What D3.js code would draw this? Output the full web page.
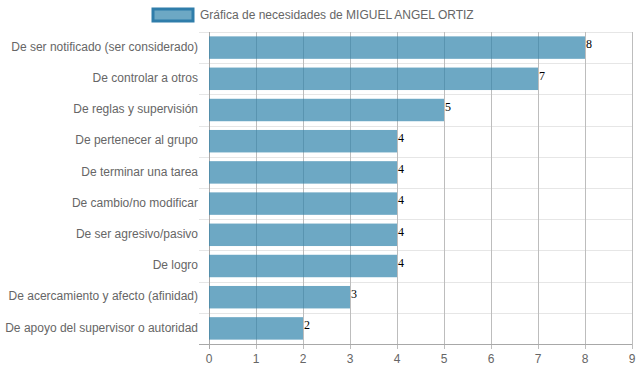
<!DOCTYPE html>
<html>
<head>
<meta charset="utf-8">
<script src="https://cdn.jsdelivr.net/npm/d3@7"></script>
<style>
  html, body { margin: 0; padding: 0; background: #fff; }
  svg { display: block; font-family: "Liberation Sans", Arial, sans-serif; }
</style>
</head>
<body>
<svg id="chart" width="639" height="372"></svg>
<script>
// ----------------------------
// Data
// ----------------------------
const seriesName = "Gráfica de necesidades de MIGUEL ANGEL ORTIZ";
const categories = [
  "De ser notificado (ser considerado)",
  "De controlar a otros",
  "De reglas y supervisión",
  "De pertenecer al grupo",
  "De terminar una tarea",
  "De cambio/no modificar",
  "De ser agresivo/pasivo",
  "De logro",
  "De acercamiento y afecto (afinidad)",
  "De apoyo del supervisor o autoridad"
];
const values = [8, 7, 5, 4, 4, 4, 4, 4, 3, 2];
const xTicks = [0, 1, 2, 3, 4, 5, 6, 7, 8, 9];

// ----------------------------
// Plotting
// ----------------------------
const svg = d3.select("#chart");
const margin = { top: 32, right: 7, bottom: 28, left: 209 };
const width = +svg.attr("width");
const height = +svg.attr("height");
const innerW = width - margin.left - margin.right;
const innerH = height - margin.top - margin.bottom;

const xScale = d3.scaleLinear().domain([0, 9]).range([0, innerW]);
const yScale = d3.scaleBand().domain(categories).range([0, innerH]);

const barFill = "rgba(47,131,171,0.7)";
const barStroke = "rgba(47,125,170,1)";
const textColor = "#666";

const g = svg.append("g").attr("transform", `translate(${margin.left},${margin.top})`);

// horizontal grid at category boundaries
const bounds = d3.range(categories.length + 1).map(i => i * yScale.bandwidth());
g.selectAll(".hgrid").data(bounds).join("line")
    .attr("x1", -10)
    .attr("x2", innerW)
    .attr("y1", d => Math.round(d) + 0.5)
    .attr("y2", d => Math.round(d) + 0.5)
    .attr("stroke", "#e6e6e6")
    .attr("stroke-width", 1);

// vertical grid at ticks
g.selectAll(".vgrid").data(xTicks).join("line")
    .attr("x1", d => Math.round(xScale(d)) + 0.5)
    .attr("x2", d => Math.round(xScale(d)) + 0.5)
    .attr("y1", 0)
    .attr("y2", innerH + 5)
    .attr("stroke", "#bdbdbd")
    .attr("stroke-width", 1);

// axis lines
g.append("line")
    .attr("x1", 0.5).attr("x2", 0.5)
    .attr("y1", 0).attr("y2", innerH + 5)
    .attr("stroke", "#a8a8a8");
g.append("line")
    .attr("x1", -10).attr("x2", innerW)
    .attr("y1", innerH + 0.5).attr("y2", innerH + 0.5)
    .attr("stroke", "#a8a8a8");

// bars
const barH = yScale.bandwidth() * 0.72;
const barOff = (yScale.bandwidth() - barH) / 2;
g.selectAll(".bar").data(values).join("rect")
    .attr("x", xScale(0))
    .attr("y", (d, i) => yScale(categories[i]) + barOff)
    .attr("width", d => xScale(d) - xScale(0))
    .attr("height", barH)
    .attr("fill", barFill);

// value labels
g.selectAll(".val").data(values).join("text")
    .attr("x", d => xScale(d) + 1)
    .attr("y", (d, i) => yScale(categories[i]) + barOff + 12)
    .attr("font-family", "'Liberation Serif', 'Times New Roman', serif")
    .attr("font-size", 12)
    .attr("fill", "#000")
    .text(d => d);

// category labels
g.selectAll(".cat").data(categories).join("text")
    .attr("x", -11)
    .attr("y", d => yScale(d) + yScale.bandwidth() / 2 - 1)
    .attr("dy", "0.35em")
    .attr("text-anchor", "end")
    .attr("font-size", 12)
    .attr("fill", textColor)
    .text(d => d);

// x tick labels
g.selectAll(".xt").data(xTicks).join("text")
    .attr("x", d => xScale(d))
    .attr("y", innerH + 15)
    .attr("dy", "0.35em")
    .attr("text-anchor", "middle")
    .attr("font-size", 12)
    .attr("fill", textColor)
    .text(d => d);

// legend
const legend = svg.append("g").attr("transform", "translate(153,9)");
legend.append("rect")
    .attr("width", 40)
    .attr("height", 12)
    .attr("fill", barFill)
    .attr("stroke", barStroke)
    .attr("stroke-width", 3);
legend.append("text")
    .attr("x", 47)
    .attr("y", 6)
    .attr("dy", "0.35em")
    .attr("font-size", 12)
    .attr("fill", textColor)
    .text(seriesName);
</script>
</body>
</html>
